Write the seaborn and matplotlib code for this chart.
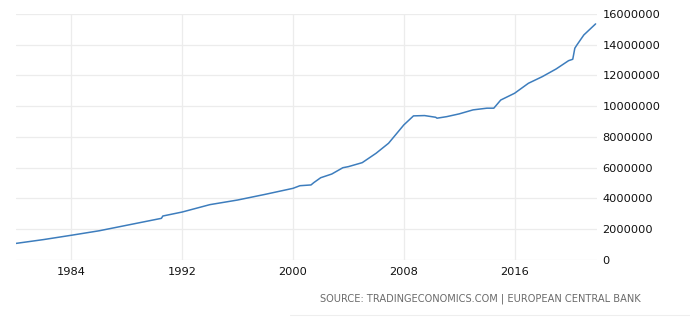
"""
plot.py
Euro area money supply M3 style line chart, recreated with seaborn.
"""

import numpy as np
import pandas as pd
import matplotlib.pyplot as plt
import seaborn as sns
from matplotlib.lines import Line2D

# ── Data ──────────────────────────────────────────────────────────────────────
years = [1980.0, 1982.0, 1984.0, 1986.0, 1988.0, 1990.0, 1990.5, 1990.6,
         1992.0, 1994.0, 1996.0, 1998.0, 2000.0, 2000.5, 2001.3, 2001.5,
         2002.0, 2002.8, 2003.6, 2004.0, 2005.0, 2006.0, 2006.9, 2008.0,
         2008.7, 2009.5, 2010.3, 2010.4, 2011.1, 2012.0, 2013.0, 2014.0,
         2014.5, 2015.0, 2016.0, 2017.0, 2018.0, 2019.0, 2019.9, 2020.2,
         2020.35, 2020.5, 2021.0, 2021.85]
values = [1.08e6, 1.33e6, 1.61e6, 1.90e6, 2.26e6, 2.62e6, 2.71e6, 2.86e6,
          3.12e6, 3.60e6, 3.90e6, 4.27e6, 4.66e6, 4.83e6, 4.88e6, 5.03e6,
          5.35e6, 5.59e6, 6.00e6, 6.07e6, 6.33e6, 6.94e6, 7.59e6, 8.78e6,
          9.37e6, 9.39e6, 9.28e6, 9.22e6, 9.32e6, 9.50e6, 9.76e6, 9.87e6,
          9.87e6, 10.40e6, 10.84e6, 11.49e6, 11.92e6, 12.42e6, 12.96e6, 13.05e6,
          13.77e6, 13.98e6, 14.63e6, 15.35e6]

x_ticks = [1984, 1992, 2000, 2008, 2016]
y_ticks = [0, 2000000, 4000000, 6000000, 8000000, 10000000, 12000000,
           14000000, 16000000]
source_text = "SOURCE: TRADINGECONOMICS.COM | EUROPEAN CENTRAL BANK"

# ── Plot ──────────────────────────────────────────────────────────────────────
if __name__ == "__main__":
    sns.set_style("white")
    plt.rcParams["font.family"] = ["DejaVu Sans"]

    df = pd.DataFrame({"year": years, "value": values})

    fig = plt.figure(figsize=(6.9, 3.23), dpi=100)
    ax = fig.add_axes([0.0232, 0.195, 0.842, 0.762])

    sns.lineplot(data=df, x="year", y="value", ax=ax,
                 color="#3d7dbd", linewidth=1.1)

    ax.set_xlim(1980, 2021.95)
    ax.set_ylim(0, 16000000)
    ax.set_xticks(x_ticks)
    ax.set_xticklabels([str(t) for t in x_ticks])
    ax.set_yticks(y_ticks)
    ax.set_yticklabels([str(t) for t in y_ticks])
    ax.yaxis.tick_right()
    ax.tick_params(axis="both", length=0, labelsize=8.2, colors="#111111")
    ax.tick_params(axis="y", pad=4)
    ax.tick_params(axis="x", pad=5)
    ax.set_xlabel("")
    ax.set_ylabel("")

    ax.grid(True, color="#ececec", linewidth=0.9)
    ax.set_axisbelow(True)
    for s in ax.spines.values():
        s.set_visible(False)

    fig.text(0.929, 0.074, source_text, ha="right", va="center",
             fontsize=7.1, color="#6b6b6b")
    fig.add_artist(Line2D([0.42, 1.0], [0.025, 0.025],
                          transform=fig.transFigure, color="#eeeeee",
                          linewidth=0.8))

    fig.savefig("out.png", dpi=100)
    plt.close(fig)
